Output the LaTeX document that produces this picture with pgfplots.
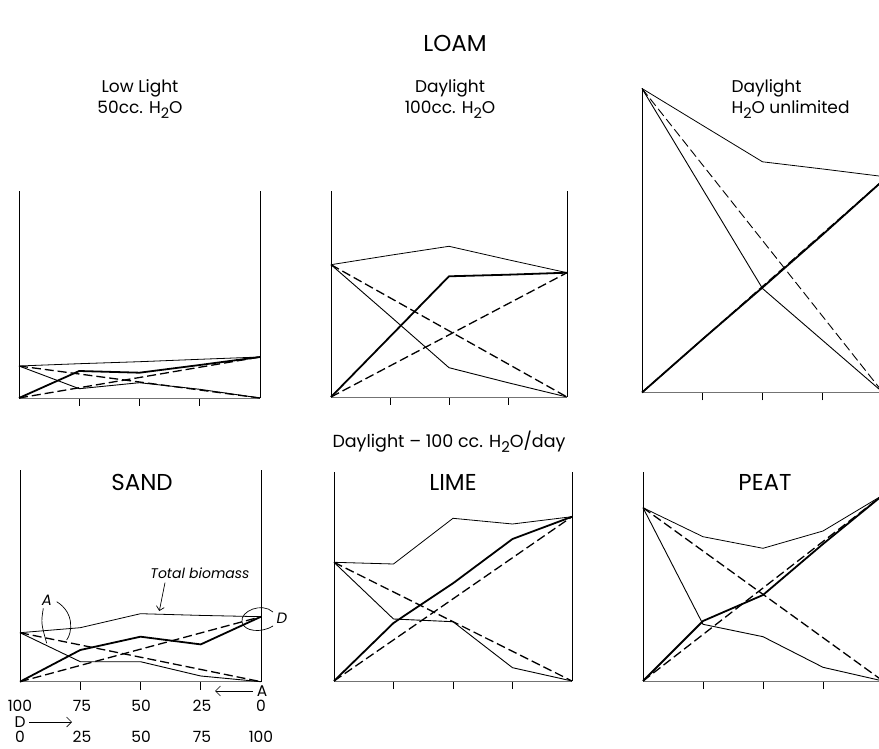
\documentclass[border=0pt]{standalone}
\usepackage{pgfplots}
\pgfplotsset{compat=1.18}
\usepackage{graphicx}
\usepackage{fontspec}
\setmainfont{Poppins}
\usetikzlibrary{arrows.meta}
\newcommand{\subtwo}{\raisebox{-0.45ex}{\scalebox{0.85}{2}}}
\pgfplotsset{
  panel/.style={
    scale only axis, anchor=south west, clip=false,
    xmin=0, xmax=100, ymin=0,
    axis x line=bottom, axis y line=left,
    x axis line style={-, draw=black!55, line width=0.5pt},
    y axis line style={draw=none},
    xtick={25,50,75}, xticklabels={}, ytick=\empty,
    tick align=outside, major tick length=8pt,
    tick style={black, line width=0.6pt},
    extra description/.code={
      \draw[black, line width=0.6pt] (0,0) -- (0,1) (1,0) -- (1,1);
    },
  },
  tot/.style={black, line width=0.8pt, line join=round},
  aa/.style={black, line width=0.9pt, line join=round},
  dd/.style={black, line width=1.8pt, line join=round},
  ex/.style={black, line width=1.3pt, dash pattern=on 9pt off 4pt},
}
\begin{document}
\begin{tikzpicture}[x=1pt,y=1pt]
\useasboundingbox (0,0) rectangle (879,748);

% ---------- Low light 50 cc ----------
\begin{axis}[panel, at={(19pt,350pt)}, width=241pt, height=207pt, ymax=207]
\addplot[ex] coordinates {(0,32) (100,0)};
\addplot[ex] coordinates {(0,0) (100,41)};
\addplot[tot] coordinates {(0,32) (25,34.3) (50,36.3) (75,38.7) (100,41)};
\addplot[aa] coordinates {(0,32) (25,9.3) (50,15.3) (75,8.7) (100,0)};
\addplot[dd] coordinates {(0,0) (25,27) (50,25.3) (75,33) (100,41)};
\end{axis}

% ---------- Daylight 100 cc ----------
\begin{axis}[panel, at={(331pt,351pt)}, width=236pt, height=206pt, ymax=206]
\addplot[ex] coordinates {(0,132.3) (100,0)};
\addplot[ex] coordinates {(0,0) (100,124.3)};
\addplot[tot] coordinates {(0,132.3) (25,141.7) (50,150.7) (75,137.3) (100,124.3)};
\addplot[aa] coordinates {(0,132.3) (25,81) (50,29.3) (75,14.3) (100,0)};
\addplot[dd] coordinates {(0,0) (25,60.3) (50,120.7) (75,122.3) (100,124.3)};
\end{axis}

% ---------- Daylight unlimited ----------
\begin{axis}[panel, at={(642pt,355.5pt)}, width=241pt, height=304pt, ymax=304]
\addplot[ex, line width=0.9pt] coordinates {(0,304) (100,0)};
\addplot[ex] coordinates {(0,0) (100,212)};
\addplot[tot] coordinates {(0,304) (25,267.3) (50,230.7) (75,223.5) (100,216)};
\addplot[aa] coordinates {(0,304) (25,204) (50,104) (75,52) (100,0)};
\addplot[dd] coordinates {(0,0) (25,53) (50,105) (75,158) (100,212)};
\end{axis}

% ---------- SAND ----------
\begin{axis}[panel, at={(20pt,66.3pt)}, width=241pt, height=211.7pt, ymax=211.7]
\addplot[ex] coordinates {(0,49) (100,0)};
\addplot[ex] coordinates {(0,0) (100,65)};
\addplot[tot] coordinates {(0,49) (25,54) (50,68) (75,66.3) (100,65)};
\addplot[aa] coordinates {(0,49) (25,20) (50,20) (75,5.7) (100,0)};
\addplot[dd] coordinates {(0,0) (25,31.7) (50,45) (75,37.3) (100,65)};
\end{axis}

% ---------- LIME ----------
\begin{axis}[panel, at={(334pt,67pt)}, width=238pt, height=209pt, ymax=209]
\addplot[ex] coordinates {(0,118.7) (100,0)};
\addplot[ex] coordinates {(0,0) (100,164.3)};
\addplot[tot] coordinates {(0,118.7) (25,117) (50,162.7) (75,157) (100,164.3)};
\addplot[aa] coordinates {(0,118.7) (25,62) (50,59.3) (75,13.3) (100,0)};
\addplot[dd] coordinates {(0,0) (25,58) (50,97.7) (75,142) (100,164.3)};
\end{axis}

% ---------- PEAT ----------
\begin{axis}[panel, at={(643pt,67pt)}, width=240pt, height=209pt, ymax=209]
\addplot[ex] coordinates {(0,173.3) (100,0)};
\addplot[ex] coordinates {(0,0) (100,186)};
\addplot[tot] coordinates {(0,173.3) (25,144.3) (50,132.7) (75,150) (100,186)};
\addplot[aa] coordinates {(0,173.3) (25,56.7) (50,44.3) (75,13.7) (100,0)};
\addplot[dd] coordinates {(0,0) (25,60) (50,86) (75,137) (100,186)};
\end{axis}

% ---------- titles ----------
\node[font=\fontsize{23}{26}\selectfont] at (455,705) {LOAM};
\node[font=\fontsize{17}{20}\selectfont, anchor=base] at (140,655) {Low Light};
\node[font=\fontsize{17}{20}\selectfont, anchor=base] at (140,634) {50cc. H\subtwo O};
\node[font=\fontsize{17}{20}\selectfont, anchor=base] at (450,655) {Daylight};
\node[font=\fontsize{17}{20}\selectfont, anchor=base] at (450,634) {100cc. H\subtwo O};
\node[font=\fontsize{17}{20}\selectfont, anchor=base west] at (728,655) {Daylight};
\node[font=\fontsize{17}{20}\selectfont, anchor=base west] at (728,634) {H\subtwo O unlimited};
\node[font=\fontsize{17.5}{20}\selectfont] at (449,306) {Daylight -- 100 cc. H\subtwo O/day};
\node[font=\fontsize{23}{26}\selectfont] at (142,266) {SAND};
\node[font=\fontsize{23}{26}\selectfont] at (453,266) {LIME};
\node[font=\fontsize{23}{26}\selectfont] at (765,266) {PEAT};

% ---------- SAND annotations ----------
\node[font=\fontsize{14}{16}\selectfont\itshape] at (200,175) {Total biomass};
\draw[line width=0.7pt, -{Straight Barb[length=4pt]}] (165,165.3) .. controls (163,152) .. (159.3,137);
\node[font=\fontsize{15}{17}\selectfont\itshape] at (47,148) {A};
\draw[line width=0.7pt] (56.7,146.3) .. controls (75,135) and (72,115) .. (66.7,108);
\draw[line width=0.7pt] (43.3,139.7) .. controls (41,125) .. (46.7,104.7);
\node[font=\fontsize{15}{17}\selectfont\itshape] at (282,130) {D};
\draw[line width=0.7pt] (273,136) .. controls (262,146) and (240,137) .. (242,126) .. controls (244,116) and (262,115) .. (273,122);

% ---------- bottom scale ----------
\begin{scope}[every node/.style={font=\fontsize{15.5}{18}\selectfont, inner sep=1pt}]
\node at (20,42) {100}; \node at (82,42) {75}; \node at (141,42) {50}; \node at (202,42) {25}; \node at (261,42) {0};
\node at (262,57) {A};
\draw[line width=0.7pt, -{Straight Barb[length=5pt]}] (253,57) -- (215,57);
\node at (20,26) {D};
\draw[line width=0.7pt, -{Straight Barb[length=5pt]}] (29,26) -- (72,26);
\node at (20,11) {0}; \node at (82,11) {25}; \node at (141,11) {50}; \node at (202,11) {75}; \node at (261,11) {100};
\end{scope}
\end{tikzpicture}
\end{document}
